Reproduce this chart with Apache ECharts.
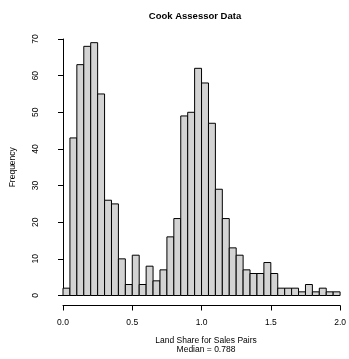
<!DOCTYPE html>
<html>
<head>
<meta charset="utf-8">
<script src="https://cdn.jsdelivr.net/npm/echarts@6/dist/echarts.min.js"></script>
<style>
html, body { margin: 0; padding: 0; background: #fff; }
#chart { width: 349px; height: 359px; }
</style>
</head>
<body>
<div id="chart"></div>
<script>
// bin edges (width 0.05) and counts
var binStart = 0;
var binWidth = 0.05;
var counts = [2, 43, 63, 68, 69, 55, 26, 25, 10, 3,
              11, 3, 8, 4, 7, 16, 21, 49, 50, 62,
              58, 47, 29, 21, 13, 11, 7, 6, 6, 9,
              6, 2, 2, 2, 1, 3, 1, 2, 1, 1];
var xTicks = [0, 0.5, 1.0, 1.5, 2.0];
var yTicks = [0, 10, 20, 30, 40, 50, 60, 70];

var titleText = 'Cook Assessor Data';
var xLabel = 'Land Share for Sales Pairs';
var subLabel = 'Median = 0.788';
var yLabel = 'Frequency';

// each bar: [left edge, right edge, count]
var bins = counts.map(function (c, i) {
  var x0 = +(binStart + i * binWidth).toFixed(2);
  return [x0, +(x0 + binWidth).toFixed(2), c];
});

var font = 'Liberation Sans, Arial, sans-serif';
var chart = echarts.init(document.getElementById('chart'));

var option = {
  animation: false,
  backgroundColor: '#fff',
  title: [
    { text: titleText, left: 190, top: 6, textAlign: 'center',
      textStyle: { fontFamily: font, fontSize: 9.5, fontWeight: 'bold', color: '#000' } },
    { text: xLabel, left: 201, top: 331, textAlign: 'center',
      textStyle: { fontFamily: font, fontSize: 8.5, fontWeight: 'normal', color: '#000' } },
    { text: subLabel, left: 201, top: 340, textAlign: 'center',
      textStyle: { fontFamily: font, fontSize: 8.5, fontWeight: 'normal', color: '#000' } }
  ],
  grid: { left: 59.3, right: 8, top: 39, bottom: 63.5 },
  xAxis: {
    type: 'value',
    min: 0, max: 2, interval: 0.5,
    offset: 10,
    axisLine: { show: true, onZero: false, lineStyle: { color: '#000', width: 1 } },
    axisTick: { show: true, length: 5, lineStyle: { color: '#000' } },
    axisLabel: {
      color: '#000', fontFamily: font, fontSize: 8.5, margin: 13,
      customValues: xTicks,
      formatter: function (v) { return v.toFixed(1); }
    },
    splitLine: { show: false }
  },
  yAxis: {
    type: 'value',
    min: 0, max: 70, interval: 10,
    offset: 11,
    name: yLabel,
    nameLocation: 'middle',
    nameGap: 35,
    nameRotate: 90,
    nameTextStyle: { color: '#000', fontFamily: font, fontSize: 8.5 },
    axisLine: { show: true, lineStyle: { color: '#000', width: 1 } },
    axisTick: { show: true, length: 5, lineStyle: { color: '#000' } },
    axisLabel: {
      color: '#000', fontFamily: font, fontSize: 8.5, rotate: 90, margin: 12,
      customValues: yTicks
    },
    splitLine: { show: false }
  },
  series: [{
    type: 'custom',
    data: bins,
    encode: { x: [0, 1], y: 2 },
    renderItem: function (params, api) {
      var p0 = api.coord([api.value(0), 0]);
      var p1 = api.coord([api.value(1), api.value(2)]);
      return {
        type: 'rect',
        shape: { x: p0[0], y: p1[1], width: p1[0] - p0[0], height: p0[1] - p1[1] },
        style: { fill: '#d3d3d3', stroke: '#000', lineWidth: 1 }
      };
    }
  }]
};

chart.setOption(option);
</script>
</body>
</html>
